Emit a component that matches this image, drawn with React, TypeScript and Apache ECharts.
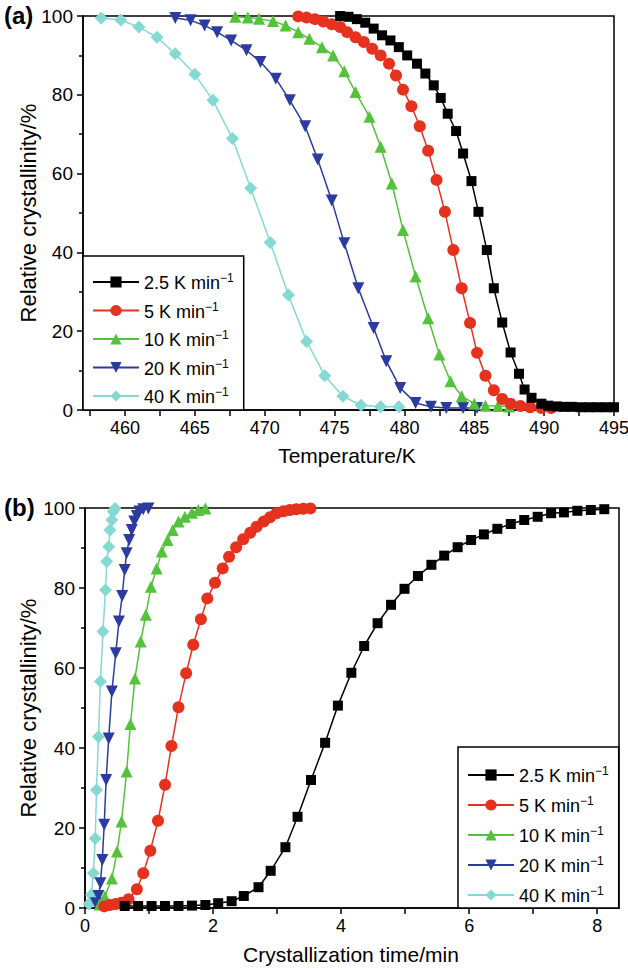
import React, { useEffect, useRef } from 'react';
import * as echarts from 'echarts';

const FONT = "'Liberation Sans', Arial, Helvetica, sans-serif";

const seriesNames = ['2.5 K min−1', '5 K min−1', '10 K min−1', '20 K min−1', '40 K min−1'];
const colors = ['#000000', '#e5321f', '#55c23b', '#2b3ba0', '#84dad3'];

// ---------- Panel (a): Temperature/K vs relative crystallinity/% ----------
const aT25 = [475.4, 476.0, 476.6, 477.2, 477.8, 478.4, 479.0, 479.6, 480.2, 480.9, 481.5, 482.1, 482.6, 483.1, 483.7, 484.2, 484.8, 485.3, 485.9, 486.4, 487.0, 487.6, 488.2, 488.6, 489.1, 489.8, 490.3, 490.9, 491.4, 492.0, 492.6, 493.2, 493.8, 494.4, 495.0];
const aV25 = [100, 99.8, 99.2, 98.3, 96.8, 95.1, 93.8, 92.1, 90.0, 87.9, 85.4, 82.4, 79.2, 75.2, 70.8, 65.1, 58.1, 50.3, 40.6, 30.9, 22.2, 14.6, 9.2, 5.2, 3.1, 1.6, 1.1, 0.9, 0.8, 0.8, 0.7, 0.7, 0.7, 0.7, 0.7];

const aT5 = [472.4, 473.0, 473.6, 474.2, 474.8, 475.4, 475.9, 476.5, 477.1, 477.7, 478.3, 478.9, 479.4, 479.9, 480.5, 481.1, 481.7, 482.3, 482.9, 483.5, 484.1, 484.7, 485.2, 485.8, 486.4, 487.0, 487.6, 488.3, 489.0, 489.8, 490.5];
const aV5 = [99.9, 99.6, 99.2, 98.6, 97.9, 97.2, 95.9, 94.6, 93.4, 91.7, 90.0, 87.9, 84.9, 81.3, 77.1, 72.0, 65.8, 58.4, 50.3, 40.6, 30.9, 22.1, 14.5, 8.7, 5.0, 2.8, 1.6, 1.0, 0.7, 0.5, 0.5];

const aT10 = [467.9, 468.8, 469.6, 470.6, 471.5, 472.4, 473.2, 474.1, 474.9, 475.7, 476.5, 477.5, 478.3, 479.1, 479.9, 480.8, 481.7, 482.5, 483.3, 484.1, 485.0, 485.8, 486.7, 487.5];
const aV10 = [99.8, 99.6, 99.3, 98.7, 97.6, 95.9, 94.2, 92.1, 90.0, 86.0, 80.7, 74.4, 66.8, 57.5, 45.7, 33.9, 23.3, 14.1, 7.3, 3.5, 1.6, 1.1, 1.0, 0.9];

const aT20 = [463.6, 464.7, 465.7, 466.6, 467.6, 468.7, 469.7, 470.8, 471.8, 472.9, 473.8, 474.8, 475.7, 476.7, 477.8, 478.7, 479.7, 480.8, 481.9, 483.0, 484.2, 485.2];
const aV20 = [99.5, 98.9, 97.6, 95.9, 93.8, 91.3, 88.3, 84.1, 78.6, 72.0, 63.6, 53.2, 42.3, 30.9, 20.8, 12.4, 5.6, 1.8, 0.8, 0.5, 0.5, 0.5];

const aT40 = [458.3, 459.7, 461.0, 462.3, 463.6, 465.0, 466.3, 467.7, 469.0, 470.4, 471.7, 473.0, 474.3, 475.6, 476.9, 478.3, 479.6];
const aV40 = [99.5, 99.0, 97.2, 94.6, 90.4, 85.2, 78.6, 68.9, 56.3, 42.5, 29.2, 17.4, 8.7, 3.5, 1.2, 0.8, 0.8];

const aXLabels = [460, 465, 470, 475, 480, 485, 490, 495];
const aXTicks = [457.5, 460, 462.5, 465, 467.5, 470, 472.5, 475, 477.5, 480, 482.5, 485, 487.5, 490, 492.5, 495];

// ---------- Panel (b): Crystallization time/min vs relative crystallinity/% ----------
const bT25 = [0.62, 0.83, 1.04, 1.25, 1.46, 1.67, 1.88, 2.08, 2.29, 2.48, 2.71, 2.90, 3.13, 3.32, 3.53, 3.75, 3.95, 4.16, 4.36, 4.57, 4.78, 4.99, 5.20, 5.41, 5.61, 5.82, 6.03, 6.23, 6.44, 6.65, 6.86, 7.07, 7.28, 7.48, 7.69, 7.90, 8.11];
const bV25 = [0.5, 0.5, 0.5, 0.5, 0.5, 0.6, 0.75, 1.2, 1.7, 3.0, 5.2, 9.3, 15.2, 22.8, 32.0, 41.3, 50.6, 58.8, 65.5, 71.2, 75.8, 79.8, 83.0, 85.8, 88.1, 90.2, 92.0, 93.4, 94.8, 96.0, 97.0, 97.8, 98.7, 98.9, 99.3, 99.5, 99.7];

const bT5 = [0.30, 0.39, 0.48, 0.57, 0.68, 0.81, 0.91, 1.02, 1.14, 1.25, 1.35, 1.46, 1.58, 1.69, 1.81, 1.91, 2.03, 2.15, 2.25, 2.36, 2.47, 2.58, 2.68, 2.79, 2.89, 2.99, 3.10, 3.20, 3.30, 3.41, 3.52];
const bV5 = [0.4, 0.75, 1.0, 1.3, 2.2, 4.7, 8.7, 14.3, 21.8, 30.8, 40.5, 50.2, 58.7, 65.8, 72.2, 77.4, 81.3, 84.9, 87.8, 90.2, 92.2, 93.8, 95.3, 96.6, 97.7, 98.7, 99.2, 99.5, 99.7, 99.8, 99.9];

const bT10 = [0.23, 0.31, 0.42, 0.50, 0.57, 0.65, 0.71, 0.78, 0.87, 0.95, 1.03, 1.12, 1.20, 1.29, 1.37, 1.46, 1.56, 1.67, 1.77, 1.88];
const bV10 = [0.9, 2.8, 7.4, 14.1, 21.6, 34.1, 46.0, 57.4, 66.6, 73.3, 80.3, 84.9, 89.1, 92.0, 94.5, 96.6, 97.8, 98.8, 99.5, 99.9];

const bT20 = [0.17, 0.21, 0.24, 0.27, 0.30, 0.33, 0.37, 0.42, 0.48, 0.53, 0.58, 0.62, 0.65, 0.69, 0.73, 0.77, 0.81, 0.85, 0.91, 0.99];
const bV20 = [1.2, 3.0, 6.2, 12.0, 20.8, 32.0, 42.4, 54.1, 63.7, 71.6, 78.0, 84.5, 88.7, 92.0, 94.5, 96.6, 98.0, 99.1, 99.7, 99.9];

const bT40 = [0.06, 0.10, 0.13, 0.16, 0.18, 0.21, 0.24, 0.28, 0.32, 0.34, 0.37, 0.39, 0.42, 0.44, 0.47];
const bV40 = [1.0, 3.3, 8.7, 17.4, 29.5, 42.8, 56.6, 69.1, 79.5, 86.6, 90.3, 94.5, 97.0, 99.1, 99.9];

const bXLabels = [0, 2, 4, 6, 8];
const bXTicks = [0, 1, 2, 3, 4, 5, 6, 7, 8];

const symbols = ['rect', 'circle', 'triangle', 'triangle', 'diamond'];
const symbolSizes = [10, 12, 12, 12, 13];
const symbolRotations = [0, 0, 0, 180, 0];

function zip(xs: number[], ys: number[]) {
  return xs.map((x, i) => [x, ys[i]]);
}

function makeSeries(idx: number, axis: number, xs: number[], ys: number[]) {
  return {
    type: 'line',
    name: seriesNames[idx],
    xAxisIndex: axis,
    yAxisIndex: axis,
    data: zip(xs, ys),
    symbol: symbols[idx],
    symbolSize: symbolSizes[idx],
    symbolRotate: symbolRotations[idx],
    showSymbol: true,
    showAllSymbol: true,
    clip: true,
    lineStyle: { color: colors[idx], width: 1.5 },
    itemStyle: { color: colors[idx], borderWidth: 0 },
    emphasis: { disabled: true },
  };
}

function xAxis(gridIndex: number, min: number, max: number, labels: number[], ticks: number[]) {
  return {
    type: 'value',
    gridIndex,
    min,
    max,
    axisLine: { show: true, onZero: false, lineStyle: { color: '#000', width: 1.5 } },
    axisTick: { show: true, inside: false, length: 6, customValues: ticks, lineStyle: { color: '#000', width: 1.5 } },
    axisLabel: { customValues: labels, color: '#000', fontSize: 18, fontFamily: FONT, margin: 9 },
    splitLine: { show: false },
  };
}

function yAxis(gridIndex: number) {
  return {
    type: 'value',
    gridIndex,
    min: 0,
    max: 100,
    interval: 20,
    axisLine: { show: true, onZero: false, lineStyle: { color: '#000', width: 1.5 } },
    axisTick: { show: true, inside: false, length: 6, lineStyle: { color: '#000', width: 1.5 } },
    minorTick: { show: true, splitNumber: 2, length: 4, lineStyle: { color: '#000', width: 1.5 } },
    axisLabel: { color: '#000', fontSize: 19, fontFamily: FONT, margin: 10 },
    splitLine: { show: false },
    minorSplitLine: { show: false },
  };
}

function legendFormatter(name: string) {
  const base = name.replace('−1', '');
  return `{base|${base}}{sup|−1}`;
}

function legend(left: number, top: number, padding: number[], gap: number) {
  return {
    data: seriesNames,
    orient: 'vertical',
    left,
    top,
    padding,
    itemGap: gap,
    itemWidth: 46,
    itemHeight: 14,
    backgroundColor: '#ffffff',
    borderColor: '#000',
    borderWidth: 1.5,
    borderRadius: 0,
    selectedMode: false,
    formatter: legendFormatter,
    textStyle: {
      color: '#000',
      fontFamily: FONT,
      fontSize: 18,
      lineHeight: 20,
      rich: {
        base: { color: '#000', fontFamily: FONT, fontSize: 18, lineHeight: 20, verticalAlign: 'bottom' },
        sup: { color: '#000', fontFamily: FONT, fontSize: 12, lineHeight: 12, verticalAlign: 'top' },
      },
    },
    z: 10,
  };
}

export default function App() {
  const ref = useRef<HTMLDivElement>(null);

  useEffect(() => {
    if (!ref.current) return;
    const chart = echarts.init(ref.current, undefined, { renderer: 'svg' });
    const option: any = {
      animation: false,
      backgroundColor: '#ffffff',
      textStyle: { fontFamily: FONT },
      grid: [
        { left: 83, top: 16, width: 531, height: 394, show: true, borderColor: '#000', borderWidth: 1.5, backgroundColor: 'transparent', containLabel: false, outerBoundsMode: 'none' },
        { left: 85, top: 508, width: 534, height: 400, show: true, borderColor: '#000', borderWidth: 1.5, backgroundColor: 'transparent', containLabel: false, outerBoundsMode: 'none' },
      ],
      xAxis: [xAxis(0, 457, 495, aXLabels, aXTicks), xAxis(1, 0, 8.34, bXLabels, bXTicks)],
      yAxis: [yAxis(0), yAxis(1)],
      legend: [legend(83, 256, [16, 10, 4, 9], 8.5), legend(458, 747, [18, 10, 3, 9], 10)],
      series: [
        makeSeries(4, 0, aT40, aV40),
        makeSeries(3, 0, aT20, aV20),
        makeSeries(2, 0, aT10, aV10),
        makeSeries(1, 0, aT5, aV5),
        makeSeries(0, 0, aT25, aV25),
        makeSeries(4, 1, bT40, bV40),
        makeSeries(3, 1, bT20, bV20),
        makeSeries(2, 1, bT10, bV10),
        makeSeries(1, 1, bT5, bV5),
        makeSeries(0, 1, bT25, bV25),
      ],
      graphic: [
        { type: 'text', left: 4, top: 3, style: { text: '(a)', fontFamily: FONT, fontWeight: 'bold', fontSize: 24, fill: '#000' } },
        { type: 'text', left: 4, top: 495, style: { text: '(b)', fontFamily: FONT, fontWeight: 'bold', fontSize: 24, fill: '#000' } },
        { type: 'text', x: 28, y: 213, rotation: Math.PI / 2, style: { text: 'Relative crystallinity/%', fontFamily: FONT, fontSize: 22, fill: '#000', align: 'center', verticalAlign: 'middle' } },
        { type: 'text', x: 28, y: 708, rotation: Math.PI / 2, style: { text: 'Relative crystallinity/%', fontFamily: FONT, fontSize: 22, fill: '#000', align: 'center', verticalAlign: 'middle' } },
        { type: 'text', x: 347, y: 455, style: { text: 'Temperature/K', fontFamily: FONT, fontSize: 21, fill: '#000', align: 'center', verticalAlign: 'middle' } },
        { type: 'text', x: 351, y: 954, style: { text: 'Crystallization time/min', fontFamily: FONT, fontSize: 21, fill: '#000', align: 'center', verticalAlign: 'middle' } },
      ],
    };
    chart.setOption(option);
    return () => chart.dispose();
  }, []);

  return <div ref={ref} style={{ position: 'absolute', left: 0, top: 0, width: 628, height: 969 }} />;
}
